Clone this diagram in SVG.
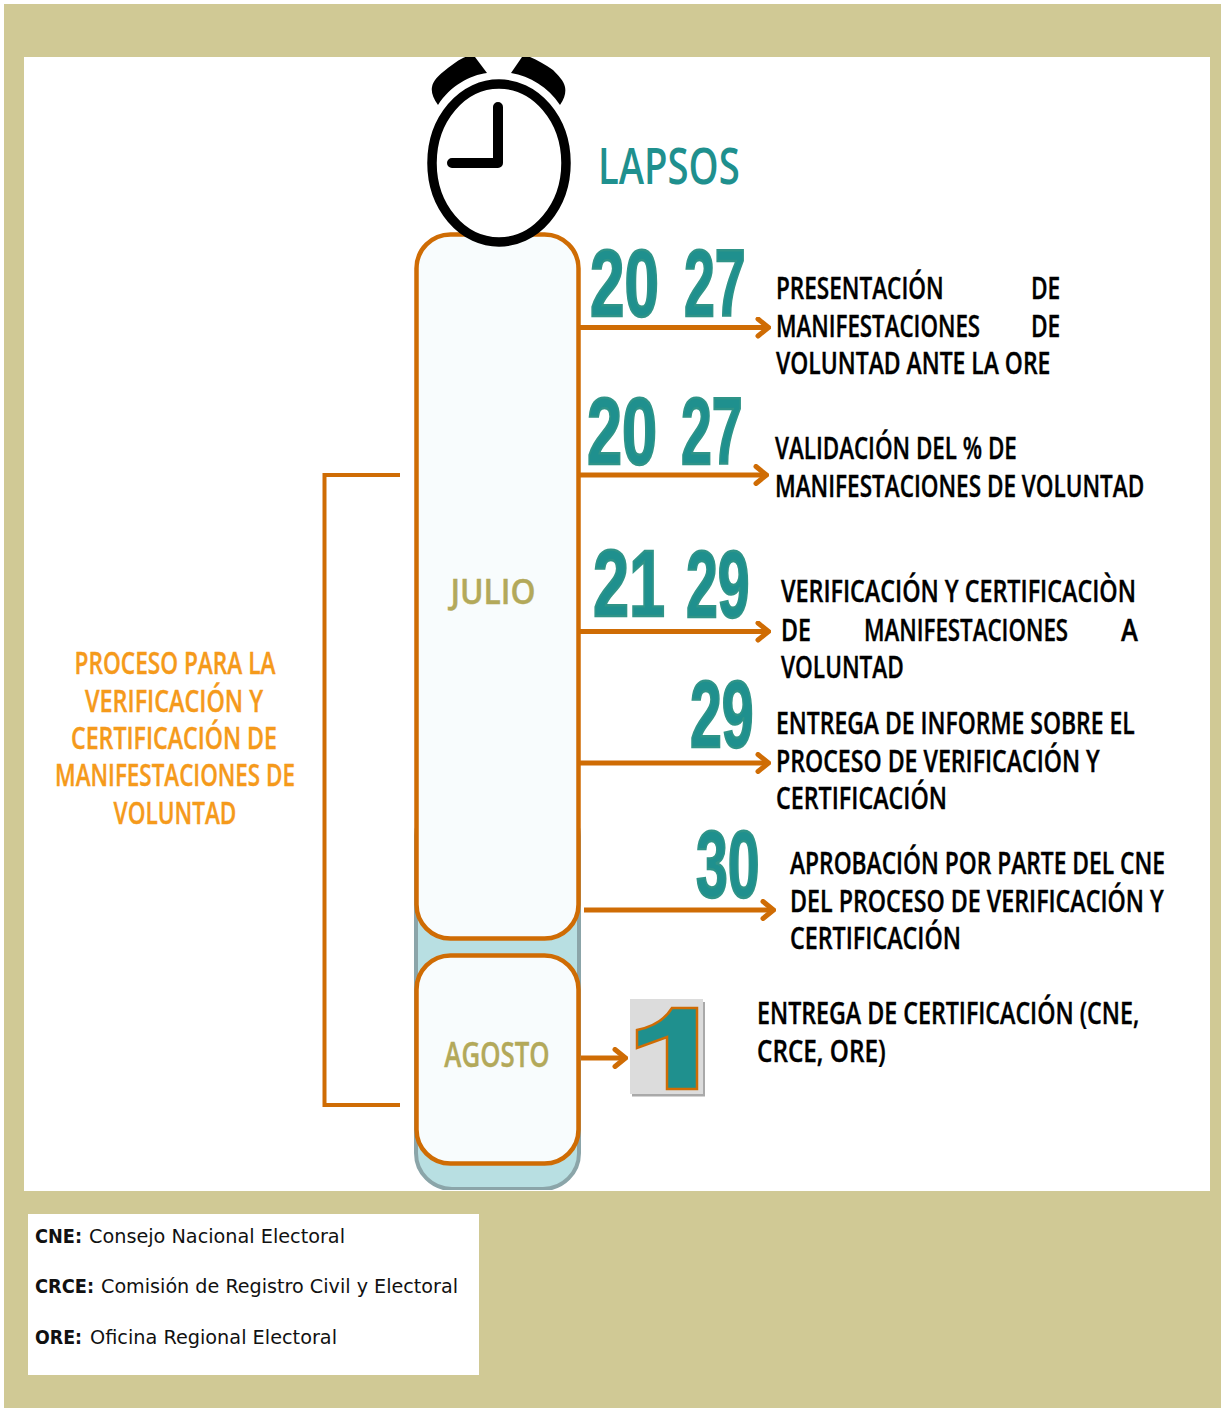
<svg xmlns="http://www.w3.org/2000/svg" width="1221" height="1408" viewBox="0 0 1221 1408">
<style>
.t{font-family:"Open Sans","Noto Sans",sans-serif;font-weight:600;font-size:31px;fill:#000;stroke:#000;stroke-width:.4}
.n{font-family:"Liberation Sans",Arial,sans-serif;font-weight:700;font-size:95px;fill:#1f908e;stroke:#2f9488;stroke-width:2.400}
.o{font-family:"Open Sans","Noto Sans",sans-serif;font-weight:600;font-size:31px;fill:#f59a1b;stroke:#f59a1b;stroke-width:.4;text-anchor:middle}
.m{font-family:"Open Sans","Noto Sans",sans-serif;font-weight:600;font-size:34px;fill:#b3a95a;stroke:#b3a95a;stroke-width:.4;text-anchor:middle}
.l{font-family:"DejaVu Sans","Noto Sans",sans-serif;font-size:20px;fill:#111}
.b{font-weight:700}
.c{fill:none;stroke:#cf6c04;stroke-width:5}
.k{fill:none;stroke:#cf6c04;stroke-width:4}
.box{fill:#f8fcfd;stroke:#cf6c04;stroke-width:4.500}
</style>
<defs>
<marker id="a" viewBox="0 0 16 22" refX="13" refY="11" markerWidth="16" markerHeight="22" markerUnits="userSpaceOnUse" orient="auto"><path d="M3 2.500L13.500 11L3 19.500" fill="none" stroke="#cf6c04" stroke-width="5" stroke-linecap="round"/></marker>
<clipPath id="w"><rect x="24" y="57" width="1186" height="1133"/></clipPath>
</defs>
<rect width="1221" height="1408" fill="#fff"/>
<rect x="4" y="4" width="1217" height="1404" fill="#d0c995"/>
<rect x="24" y="57" width="1186" height="1134" fill="#fff"/>
<g id="bar" clip-path="url(#w)"><rect x="416" y="800" width="163" height="389" rx="36" fill="#b8dfe2" stroke="#8ba5a9" stroke-width="4"/></g>
<g id="julio"><rect class="box" x="416.500" y="234.500" width="162" height="704" rx="34"/><text class="m" transform="translate(493 604) scale(.65 1)" textLength="131" lengthAdjust="spacingAndGlyphs">JULIO</text></g>
<g id="agosto"><rect class="box" x="416.500" y="955.500" width="162" height="208" rx="34"/><text class="m" transform="translate(497 1067) scale(.65 1)" textLength="162" lengthAdjust="spacingAndGlyphs">AGOSTO</text></g>
<g id="clock" clip-path="url(#w)">
<path d="M438 105C433 98 431 92 432 87C433 81 438 76 443 72C450 66 457 61 463 58C467 56 472 55 475 57L487 73C470 75 450 86 438 105Z"/>
<path d="M560 105C565 98 566 92 565 87C564 81 558 75 553 70C546 65 537 60 530 57C527 55 524 55 522 57L511 73C530 76 548 87 560 105Z"/>
<ellipse cx="499" cy="163" rx="67" ry="79" fill="#fff" stroke="#000" stroke-width="9.500"/>
<path d="M498 107V163H452" fill="none" stroke="#000" stroke-width="10" stroke-linecap="round" stroke-linejoin="round"/>
</g>
<text id="lapsos" transform="translate(598 184) scale(.65 1)" font-family="Open Sans,Noto Sans,sans-serif" font-weight="600" font-size="50" fill="#1f908e" textLength="218" lengthAdjust="spacingAndGlyphs">LAPSOS</text>
<g id="connectors">
<path class="c" d="M579 327.500H768" marker-end="url(#a)"/>
<path class="c" d="M579 475H766" marker-end="url(#a)"/>
<path class="c" d="M579 631.500H768" marker-end="url(#a)"/>
<path class="c" d="M579 763H768" marker-end="url(#a)"/>
<path class="c" d="M584 910H773" marker-end="url(#a)"/>
<path class="c" d="M581 1058H625" marker-end="url(#a)"/>
<path class="k" d="M400 475H324.500V1105H400"/>
</g>
<g id="nums">
<text class="n" transform="translate(590 316) scale(.65 1)" textLength="106" lengthAdjust="spacingAndGlyphs">20</text>
<text class="n" transform="translate(684 316) scale(.65 1)" textLength="95" lengthAdjust="spacingAndGlyphs">27</text>
<text class="n" transform="translate(587 464) scale(.65 1)" textLength="108" lengthAdjust="spacingAndGlyphs">20</text>
<text class="n" transform="translate(681 464) scale(.65 1)" textLength="95" lengthAdjust="spacingAndGlyphs">27</text>
<text class="n" transform="translate(593 616) scale(.65 1)" textLength="111" lengthAdjust="spacingAndGlyphs">21</text>
<text class="n" transform="translate(686 617) scale(.65 1)" textLength="98" lengthAdjust="spacingAndGlyphs">29</text>
<text class="n" transform="translate(690 747) scale(.65 1)" textLength="98" lengthAdjust="spacingAndGlyphs">29</text>
<text class="n" transform="translate(696 897) scale(.65 1)" textLength="98" lengthAdjust="spacingAndGlyphs">30</text>
</g>
<g id="one">
<rect x="632" y="1002" width="73" height="94.500" fill="#a9a9a9"/>
<rect x="630" y="999" width="73" height="95" fill="#dcdcdc"/>
<path d="M672 1008H697V1089H667V1037L637 1048V1030C652 1027 664 1021 672 1008Z" fill="#1f908e" stroke="#cf6c04" stroke-width="2.500"/>
</g>
<g id="item1" transform="translate(0 .7)">
<text class="t" transform="translate(776 298) scale(.65 1)" textLength="258" lengthAdjust="spacingAndGlyphs">PRESENTACIÓN</text><text class="t" transform="translate(1031 298) scale(.65 1)" textLength="45" lengthAdjust="spacingAndGlyphs">DE</text>
<text class="t" transform="translate(776 336) scale(.65 1)" textLength="314" lengthAdjust="spacingAndGlyphs">MANIFESTACIONES</text><text class="t" transform="translate(1031 336) scale(.65 1)" textLength="45" lengthAdjust="spacingAndGlyphs">DE</text>
<text class="t" transform="translate(776 373) scale(.65 1)" textLength="422" lengthAdjust="spacingAndGlyphs">VOLUNTAD ANTE LA ORE</text>
</g>
<g id="item2" transform="translate(0 .7)">
<text class="t" transform="translate(775 458) scale(.65 1)" textLength="372" lengthAdjust="spacingAndGlyphs">VALIDACIÓN DEL % DE</text>
<text class="t" transform="translate(775 496) scale(.65 1)" textLength="568" lengthAdjust="spacingAndGlyphs">MANIFESTACIONES DE VOLUNTAD</text>
</g>
<g id="item3" transform="translate(0 .7)">
<text class="t" transform="translate(781 601) scale(.65 1)" textLength="546" lengthAdjust="spacingAndGlyphs">VERIFICACIÓN Y CERTIFICACIÒN</text>
<text class="t" transform="translate(781 640) scale(.65 1)" textLength="46" lengthAdjust="spacingAndGlyphs">DE</text><text class="t" transform="translate(864 640) scale(.65 1)" textLength="314" lengthAdjust="spacingAndGlyphs">MANIFESTACIONES</text><text class="t" transform="translate(1121 640) scale(.65 1)" textLength="26" lengthAdjust="spacingAndGlyphs">A</text>
<text class="t" transform="translate(781 677) scale(.65 1)" textLength="189" lengthAdjust="spacingAndGlyphs">VOLUNTAD</text>
</g>
<g id="item4" transform="translate(0 .7)">
<text class="t" transform="translate(776 733) scale(.65 1)" textLength="552" lengthAdjust="spacingAndGlyphs">ENTREGA DE INFORME SOBRE EL</text>
<text class="t" transform="translate(776 771) scale(.65 1)" textLength="498" lengthAdjust="spacingAndGlyphs">PROCESO DE VERIFICACIÓN Y</text>
<text class="t" transform="translate(776 808) scale(.65 1)" textLength="263" lengthAdjust="spacingAndGlyphs">CERTIFICACIÓN</text>
</g>
<g id="item5" transform="translate(0 .7)">
<text class="t" transform="translate(790 873) scale(.65 1)" textLength="577" lengthAdjust="spacingAndGlyphs">APROBACIÓN POR PARTE DEL CNE</text>
<text class="t" transform="translate(790 911) scale(.65 1)" textLength="575" lengthAdjust="spacingAndGlyphs">DEL PROCESO DE VERIFICACIÓN Y</text>
<text class="t" transform="translate(790 948) scale(.65 1)" textLength="263" lengthAdjust="spacingAndGlyphs">CERTIFICACIÓN</text>
</g>
<g id="item6">
<text class="t" transform="translate(757 1024) scale(.65 1)" textLength="588" lengthAdjust="spacingAndGlyphs">ENTREGA DE CERTIFICACIÓN (CNE,</text>
<text class="t" transform="translate(757 1062) scale(.65 1)" textLength="198" lengthAdjust="spacingAndGlyphs">CRCE, ORE)</text>
</g>
<g id="proceso">
<text class="o" transform="translate(175 674) scale(.65 1)" textLength="309" lengthAdjust="spacingAndGlyphs">PROCESO PARA LA</text>
<text class="o" transform="translate(174 712) scale(.65 1)" textLength="274" lengthAdjust="spacingAndGlyphs">VERIFICACIÓN Y</text>
<text class="o" transform="translate(174 749) scale(.65 1)" textLength="317" lengthAdjust="spacingAndGlyphs">CERTIFICACIÓN DE</text>
<text class="o" transform="translate(175 786) scale(.65 1)" textLength="369" lengthAdjust="spacingAndGlyphs">MANIFESTACIONES DE</text>
<text class="o" transform="translate(175 824) scale(.65 1)" textLength="189" lengthAdjust="spacingAndGlyphs">VOLUNTAD</text>
</g>
<g id="legend">
<rect x="28" y="1214" width="451" height="161" fill="#fff"/>
<text class="l b" x="35" y="1243" textLength="47" lengthAdjust="spacingAndGlyphs">CNE:</text><text class="l" x="89" y="1243" textLength="256" lengthAdjust="spacingAndGlyphs">Consejo Nacional Electoral</text>
<text class="l b" x="35" y="1293" textLength="59" lengthAdjust="spacingAndGlyphs">CRCE:</text><text class="l" x="101" y="1293" textLength="357" lengthAdjust="spacingAndGlyphs">Comisión de Registro Civil y Electoral</text>
<text class="l b" x="35" y="1344" textLength="47" lengthAdjust="spacingAndGlyphs">ORE:</text><text class="l" x="90" y="1344" textLength="247" lengthAdjust="spacingAndGlyphs">Oficina Regional Electoral</text>
</g>
</svg>
